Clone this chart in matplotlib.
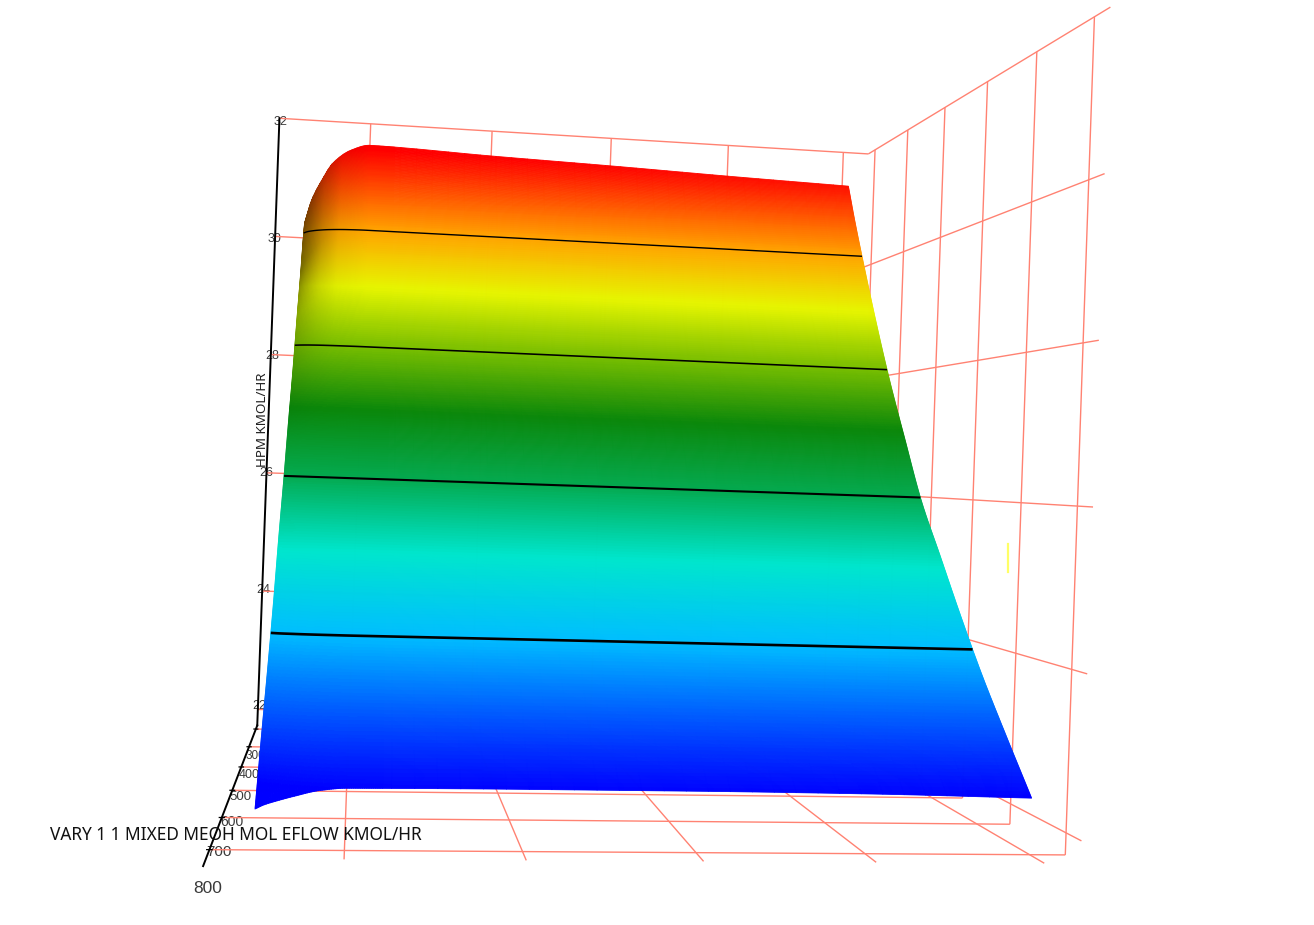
import numpy as np, matplotlib
matplotlib.use('Agg')
import matplotlib.pyplot as plt
from matplotlib.lines import Line2D
from matplotlib.colors import LinearSegmentedColormap, Normalize

# ---------- data ----------
x_ticks = [1, 2, 3, 4, 5]
y_ticks = [200, 300, 400, 500, 600, 700]
y_labels = [300, 400, 500, 600, 700, 800]
z_ticks = [22, 24, 26, 28, 30, 32]
contour_levels = [24, 26, 28, 30]

x_knots = [0.5, 0.55, 0.625, 0.71, 0.85, 1, 2, 3, 4, 5]
y_knots = [200, 225, 250, 300, 350, 400, 450, 500, 550, 600, 650, 700]
z_200 = [30.20, 30.59, 30.93, 31.23, 31.46, 31.56, 31.50, 31.45, 31.39, 31.34]
z_225 = [29.80, 30.05, 30.30, 30.48, 30.63, 30.72, 30.72, 30.71, 30.70, 30.70]
z_250 = [29.30, 29.52, 29.74, 29.90, 30.04, 30.10, 30.10, 30.10, 30.10, 30.10]
z_300 = [28.45, 28.59, 28.73, 28.83, 28.91, 28.95, 28.95, 28.95, 28.95, 28.95]
z_350 = [27.55, 27.64, 27.73, 27.79, 27.84, 27.87, 27.87, 27.87, 27.87, 27.87]
z_400 = [26.78, 26.81, 26.84, 26.86, 26.88, 26.89, 26.89, 26.89, 26.89, 26.89]
z_450 = [25.94, 25.94, 25.94, 25.94, 25.94, 25.94, 25.94, 25.94, 25.94, 25.94]
z_500 = [25.18, 25.18, 25.18, 25.18, 25.18, 25.18, 25.18, 25.18, 25.18, 25.18]
z_550 = [24.33, 24.36, 24.38, 24.40, 24.41, 24.42, 24.42, 24.42, 24.42, 24.42]
z_600 = [23.60, 23.63, 23.65, 23.67, 23.69, 23.70, 23.70, 23.70, 23.70, 23.70]
z_650 = [22.93, 22.96, 22.99, 23.02, 23.04, 23.05, 23.05, 23.05, 23.05, 23.05]
z_700 = [22.20, 22.25, 22.30, 22.35, 22.42, 22.45, 22.46, 22.46, 22.45, 22.42]
z_table = np.array([z_200, z_225, z_250, z_300, z_350, z_400, z_450, z_500, z_550, z_600, z_650, z_700])

colour_z = [22.42, 24, 25, 26, 27, 28, 29, 30, 31.5]
colour_rgb = ['#0000ff', '#00beff', '#00e6cd', '#04aa50', '#0a870a', '#78be00', '#e6f500', '#ffa500', '#ff0000']

# edge shading seen on the steep left flank: darkening by y and by x
shade_y = [200, 250, 300, 350, 420, 700]
shade_amount = [0.55, 0.5, 0.22, 0.08, 0.0, 0.0]
shade_x = [0.5, 0.56, 0.65, 0.78, 1.0]
shade_weight = [1.0, 0.8, 0.45, 0.12, 0.0]

# box extent and camera
x_lo, x_hi = 0.26, 5.22
y_lo, y_hi, y_axis_end = 178, 725, 745
z_lo, z_hi = 21.73, 32
CAMERA = np.array([[1.149150496e+02, -1.997392825e-01, 1.990233456e+00, 1.953570487e+02],
                   [7.802462059e+00, -2.584365249e-01, -5.351848499e+01, 1.863809594e+03],
                   [8.363237162e-03, -5.577120494e-04, 1.181029930e-04, 1.0]])
GRID = '#ff8272'
INK = '#3a3a3a'

W, H = 1314, 925
fig = plt.figure(figsize=(W / 100, H / 100), dpi=100)
ax = fig.add_axes([0, 0, 1, 1], projection='3d', computed_zorder=False)
ax.set_proj_type('ortho')
ax.set_axis_off()
ax.patch.set_alpha(0)


def camera_matrix():
    v = ax.viewLim
    sx = (v.x1 - v.x0) / H
    sy = (v.y1 - v.y0) / H
    left = (W - H) / 2
    row_u = sx * (CAMERA[0] - left * CAMERA[2]) + v.x0 * CAMERA[2]
    row_v = v.y1 * CAMERA[2] - sy * CAMERA[1]
    row_d = np.array([0, -1, 0, 800.0]) * 1e-3
    return np.array([row_u, row_v, row_d, CAMERA[2]])


ax.get_proj = camera_matrix


def to_pixel(x, y, z):
    h = CAMERA @ np.array([x, y, z, 1.0])
    return h[0] / h[2], h[1] / h[2]


def smooth(q, k, f):
    """Monotone cubic through the read values, only to refine the render mesh."""
    k = np.asarray(k, float)
    f = np.asarray(f, float)
    h = np.diff(k)
    s = np.diff(f) / h
    m = np.zeros_like(f)
    inner = s[:-1] * s[1:] > 0
    m[1:-1][inner] = 2 * s[:-1][inner] * s[1:][inner] / (s[:-1][inner] + s[1:][inner])
    m[0], m[-1] = s[0], s[-1]
    i = np.clip(np.searchsorted(k, q) - 1, 0, len(k) - 2)
    t = (q - k[i]) / h[i]
    return ((2 * t**3 - 3 * t**2 + 1) * f[i] + (t**3 - 2 * t**2 + t) * h[i] * m[i]
            + (-2 * t**3 + 3 * t**2) * f[i + 1] + (t**3 - t**2) * h[i] * m[i + 1])


xf = np.r_[np.linspace(0.5, 1.2, 70), np.linspace(1.25, 5, 30)]
yf = np.linspace(200, 700, 640)
tmp = np.array([smooth(xf, x_knots, r) for r in z_table])
Zf = np.array([smooth(yf, y_knots, tmp[:, j]) for j in range(len(xf))]).T
Xf, Yf = np.meshgrid(xf, yf)

cmap = LinearSegmentedColormap.from_list(
    'surf', [((z - colour_z[0]) / (colour_z[-1] - colour_z[0]), c) for z, c in zip(colour_z, colour_rgb)])
fc = cmap(Normalize(colour_z[0], colour_z[-1])(Zf))
dark = np.interp(Yf, shade_y, shade_amount) * np.interp(Xf, shade_x, shade_weight)
fc[..., :3] *= (1 - dark)[..., None]

surf = ax.plot_surface(Xf, Yf, Zf, facecolors=fc, rstride=1, cstride=1, shade=False,
                       antialiased=True, linewidth=0.6, zorder=4)
surf.set_edgecolor(fc[:-1, :-1].reshape(-1, 4))
surf._zsortfunc = lambda zs: 0.0   # keep mesh order: rows already run back to front
ax.contour(Xf, Yf, Zf, levels=contour_levels, colors='k',
           linewidths=[1.9, 1.5, 1.15, 1.0], zorder=5)

# ---------- box grid ----------
gl = dict(color=GRID, lw=1.0, zorder=1, solid_capstyle='butt')
for z in z_ticks:
    ax.plot([x_lo, x_hi], [y_lo, y_lo], [z, z], **gl)
    ax.plot([x_hi, x_hi], [y_lo, y_hi], [z, z], **gl)
for x in x_ticks:
    ax.plot([x, x], [y_lo, y_lo], [z_lo, z_hi], **gl)
    ax.plot([x, x], [y_lo, y_hi], [z_lo, z_lo], **gl)
for y in y_ticks:
    ax.plot([x_lo, x_hi], [y, y], [z_lo, z_lo], **gl)
    ax.plot([x_hi, x_hi], [y, y], [z_lo, z_hi], **gl)

# ---------- black axes ----------
ax.plot([x_lo, x_lo], [y_lo, y_lo], [z_lo, z_hi], color='k', lw=1.4, zorder=2)
ax.plot([x_lo, x_lo], [y_lo, y_axis_end], [z_lo, z_lo], color='k', lw=1.4, zorder=2)
for y in y_ticks:
    ax.plot([x_lo - 0.015, x_lo + 0.015], [y, y], [z_lo, z_lo], color='k', lw=0.9, zorder=2)

# ---------- tick labels, placed by the camera with a small label offset ----------
z_offsets = [(1, -3), (1, -1), (0, 0), (1, 1), (-1, 3), (1, 4)]
for z, (dx, dy) in zip(z_ticks, z_offsets):
    u, v = to_pixel(x_lo, y_lo, z)
    fig.text((u + dx) / W, 1 - (v + dy) / H, str(z), fontsize=9, color=INK, ha='center', va='center',
             family='Liberation Sans', zorder=-1)
y_sizes = [8.5, 9, 9.5, 10, 11, 12.5]
y_offsets = [(6, 9), (8, 8), (8, 7), (10, 4), (10, 2), (13, 0)]
for y, fs, (dx, dy) in zip(y_labels, y_sizes, y_offsets):
    u, v = to_pixel(x_lo, y, z_lo)
    fig.text((u + dx) / W, 1 - (v + dy) / H, str(y), fontsize=fs, color=INK, ha='center', va='center',
             family='Liberation Sans', zorder=-1)

fig.text(50 / W, 1 - 835 / H, 'VARY 1 1 MIXED MEOH MOL EFLOW KMOL/HR', fontsize=12.45,
         family='Noto Sans', color='#111111', ha='left', va='center', zorder=6)
fig.text(262 / W, 1 - 420 / H, 'HPM KMOL/HR', fontsize=9.7, family='Noto Sans', color='#222222',
         rotation=90, ha='center', va='center', zorder=6)
fig.add_artist(Line2D([1008 / W, 1008 / W], [1 - 544 / H, 1 - 572 / H], color='#ffff66', lw=1.6))

fig.savefig('out.png', dpi=100)
